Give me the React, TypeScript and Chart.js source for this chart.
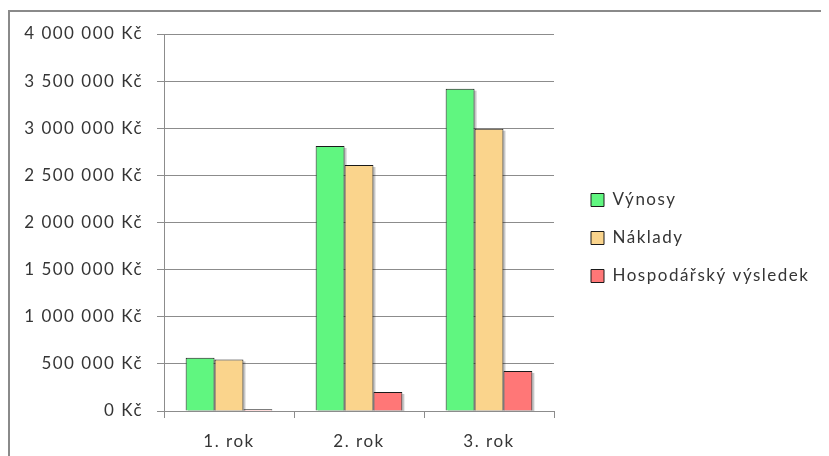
import React, { useEffect, useRef } from 'react';
import { Chart, registerables } from 'chart.js';

Chart.register(...registerables);

// ---- data ----
const categories = ['1. rok', '2. rok', '3. rok'];
const seriesNames = ['Výnosy', 'Náklady', 'Hospodářský výsledek'];
const vynosy = [565000, 2812000, 3420000];
const naklady = [547000, 2610000, 2995000];
const vysledek = [18000, 202000, 425000];
const yMin = 0;
const yMax = 4000000;
const yStep = 500000;

// ---- style ----
const FONT = 'Lato';
const FONT_SIZE = 17;
const LS = '1.5px';
const TEXT = '#353535';
const GRID = '#8c8c8c';
const COLORS = ['#60F680', '#FAD48C', '#FF7777'];
const W = 821;
const H = 448;
const LEGEND_W = 275;

function formatKc(v: number): string {
  return String(Math.round(v)).replace(/\B(?=(\d{3})+(?!\d))/g, ' ') + ' Kč';
}

const helperPlugin = {
  id: 'helper',
  beforeUpdate(chart: any) {
    chart.ctx.letterSpacing = LS;
  },
  beforeLayout(chart: any) {
    chart.ctx.letterSpacing = LS;
    const lg = chart.legend;
    if (lg && !lg.__patched) {
      const orig = lg.fit;
      lg.fit = function () {
        orig.call(this);
        this.width = LEGEND_W;
      };
      lg.__patched = true;
    }
  },
  afterLayout(chart: any) {
    const lg = chart.legend;
    if (lg) {
      lg.left += 16;
      lg.right += 16;
      lg.top -= 7;
      lg.bottom -= 7;
    }
  },
  beforeDraw(chart: any) {
    const ctx = chart.ctx;
    ctx.letterSpacing = LS;
    ctx.save();
    ctx.fillStyle = '#8a8a8a';
    ctx.fillRect(0, 2, chart.width, 2);
    ctx.fillRect(0, 2, 2, chart.height);
    ctx.restore();
  },
  beforeDatasetsDraw(chart: any) {
    const ctx = chart.ctx;
    const area = chart.chartArea;
    ctx.save();
    ctx.beginPath();
    ctx.rect(area.left, area.top - 5, area.right - area.left + 5, area.bottom - area.top + 5);
    ctx.clip();
    ctx.fillStyle = 'rgba(0,0,0,0.22)';
    chart.data.datasets.forEach((_: any, i: number) => {
      const meta = chart.getDatasetMeta(i);
      meta.data.forEach((bar: any) => {
        const { x, y, base, width } = bar.getProps(['x', 'y', 'base', 'width'], true);
        ctx.fillRect(x - width / 2 + 2, Math.min(y, base) + 2, width, Math.abs(base - y));
      });
    });
    ctx.restore();
  },
};

export default function App() {
  const ref = useRef<HTMLCanvasElement>(null);

  useEffect(() => {
    document.documentElement.style.overflow = 'hidden';
    document.body.style.overflow = 'hidden';
    Chart.defaults.font.family = FONT;
    Chart.defaults.font.size = FONT_SIZE;
    Chart.defaults.color = TEXT;

    const data = [vynosy, naklady, vysledek];
    const chart = new Chart(ref.current as HTMLCanvasElement, {
      type: 'bar',
      data: {
        labels: categories,
        datasets: seriesNames.map((name, i) => ({
          label: name,
          data: data[i],
          backgroundColor: COLORS[i],
          borderColor: '#1a1a1a',
          borderWidth: 1,
          categoryPercentage: 0.667,
          barPercentage: 1.0,
        })),
      },
      options: {
        animation: false,
        responsive: false,
        maintainAspectRatio: false,
        layout: { padding: { top: 26, left: 0, right: 0, bottom: 0 } },
        plugins: {
          tooltip: { enabled: false },
          legend: {
            position: 'right',
            align: 'center',
            labels: {
              boxWidth: 13,
              boxHeight: 13,
              padding: 21,
              color: TEXT,
              font: { family: FONT, size: FONT_SIZE },
            },
          },
        },
        scales: {
          x: {
            offset: true,
            grid: {
              display: true,
              offset: true,
              drawOnChartArea: false,
              drawTicks: true,
              tickLength: 7,
              color: GRID,
            },
            border: { display: true, color: GRID },
            ticks: { padding: 13, color: TEXT, font: { family: FONT, size: FONT_SIZE } },
            afterFit(scale: any) {
              scale.height = 45;
            },
          },
          y: {
            min: yMin,
            max: yMax,
            grid: { color: GRID, tickLength: 7, drawTicks: true },
            border: { display: true, color: GRID },
            ticks: {
              stepSize: yStep,
              padding: 14,
              color: TEXT,
              font: { family: FONT, size: FONT_SIZE },
              callback: (v: any) => formatKc(Number(v)),
            },
            afterFit(scale: any) {
              scale.width = 156;
            },
          },
        },
      },
      plugins: [helperPlugin],
    } as any);
    return () => chart.destroy();
  }, []);

  return <canvas ref={ref} width={W} height={H} style={{ display: 'block', width: W, height: H }} />;
}
